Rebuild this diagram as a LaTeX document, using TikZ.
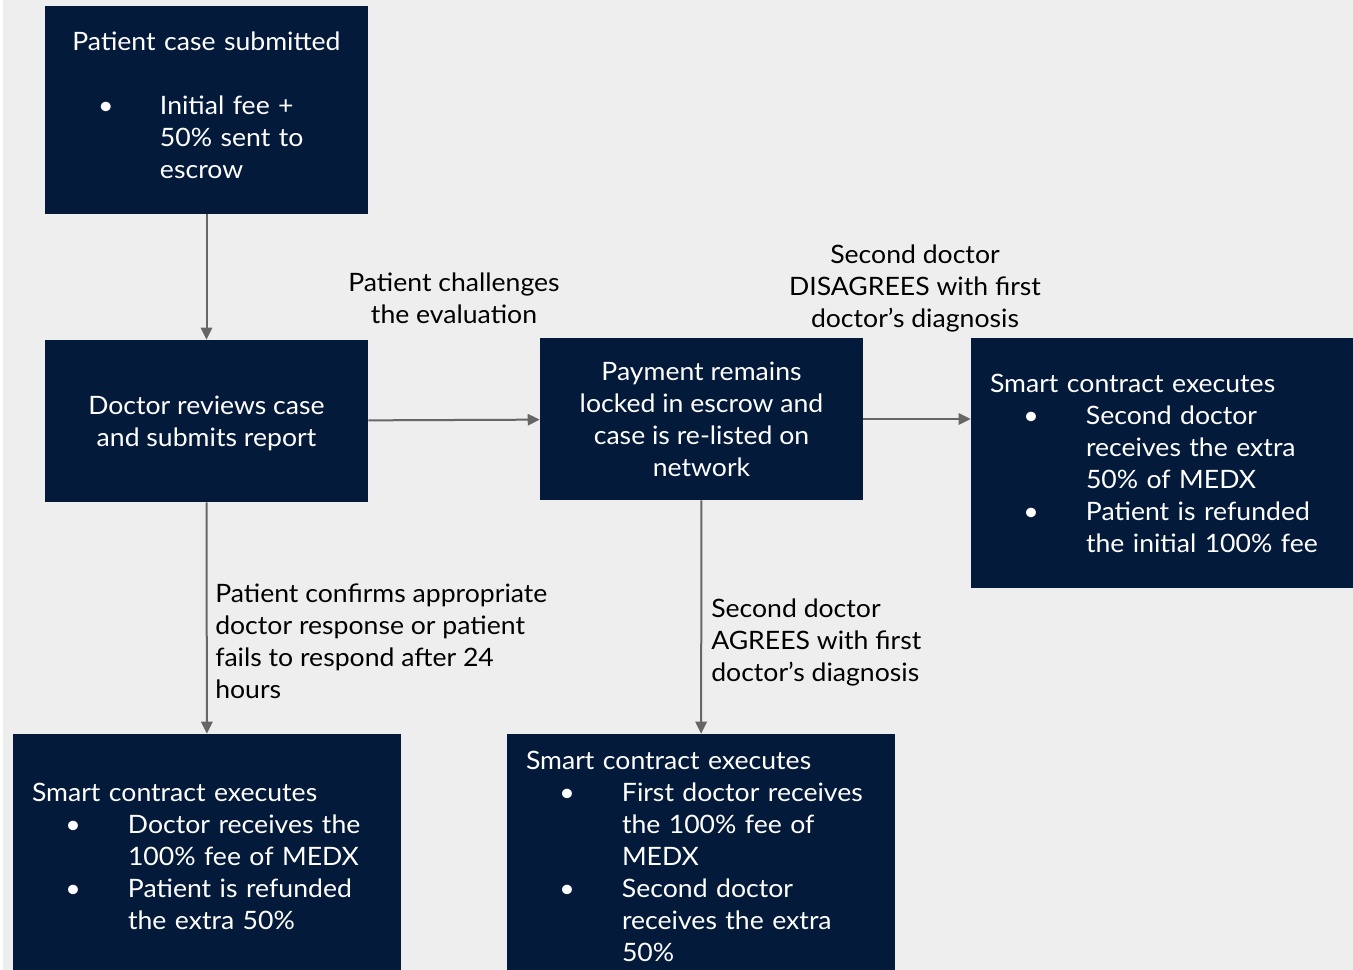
\documentclass[tikz,border=0pt]{standalone}
\usepackage{fontspec}
\setmainfont{Lato}[FakeStretch=1.05]
\usetikzlibrary{arrows.meta}

\definecolor{boxnavy}{HTML}{041A3A}
\definecolor{pagegrey}{HTML}{EEEEEE}
\definecolor{linegrey}{HTML}{666666}

\tikzset{
  box/.style={fill=boxnavy, text=white, inner sep=0pt, font=\fontsize{19}{24}\selectfont},
  bulletbox/.style={box, align=left, inner xsep=14.25pt},
  lbl/.style={inner sep=0pt, font=\fontsize{19}{24}\selectfont},
  flow/.style={draw=linegrey, line width=1.5pt, -{Triangle[length=9pt,width=8.5pt]}},
}
\newcommand{\bul}{\hspace*{25pt}\textbullet}
\newcommand{\dropby}[2]{\raisebox{-#1}[\height][\depth]{#2}}

\begin{document}
\begin{tikzpicture}[x=0.75pt, y=-0.75pt]
\useasboundingbox (0,0) rectangle (1353,970);
\fill[pagegrey] (3,0) rectangle (1353,970);

% boxes
\node[box, align=left, minimum height=156pt, text width=162.75pt, inner xsep=39.75pt] (submitted) at (206.5,110) {\dropby{-1.5pt}{%
\begin{tabular}{@{}p{46.5pt}@{}p{116.25pt}@{}}
\multicolumn{2}{@{}c@{}}{\makebox[162.75pt][c]{Patient case submitted}}\\
\\
\textbullet & Initial fee +\\
 & 50\% sent to\\
 & escrow
\end{tabular}}};
\node[box, align=center, minimum width=242.25pt, minimum height=121.5pt] (review) at (206.5,421) {\dropby{2.25pt}{%
\begin{tabular}{@{}c@{}}Doctor reviews case\\and submits report\end{tabular}}};
\node[box, align=center, minimum width=242.25pt, minimum height=121.5pt] (relist) at (701.5,419) {\dropby{2.25pt}{%
\begin{tabular}{@{}c@{}}Payment remains\\locked in escrow and\\case is re-listed on\\network\end{tabular}}};
\node[bulletbox, minimum height=187.5pt, text width=258pt] (disagree) at (1162,463) {\dropby{2.25pt}{%
\begin{tabular}{@{}p{72pt}@{}l@{}}
\multicolumn{2}{@{}l@{}}{Smart contract executes}\\
\bul & Second doctor\\
 & receives the extra\\
 & 50\% of MEDX\\
\bul & Patient is refunded\\
 & the initial 100\% fee
\end{tabular}}};
\node[bulletbox, minimum height=183pt, text width=262.5pt] (confirm) at (207,856) {\dropby{2.25pt}{%
\begin{tabular}{@{}p{72pt}@{}l@{}}
\multicolumn{2}{@{}l@{}}{Smart contract executes}\\
\bul & Doctor receives the\\
 & 100\% fee of MEDX\\
\bul & Patient is refunded\\
 & the extra 50\%
\end{tabular}}};
\node[bulletbox, minimum height=183pt, text width=262.5pt] (agree) at (701,856) {\dropby{2.25pt}{%
\begin{tabular}{@{}p{72pt}@{}l@{}}
\multicolumn{2}{@{}l@{}}{Smart contract executes}\\
\bul & First doctor receives\\
 & the 100\% fee of\\
 & MEDX\\
\bul & Second doctor\\
 & receives the extra\\
 & 50\%
\end{tabular}}};

% labels
\node[lbl, align=center] (challenge) at (454,298) {Patient challenges\\the evaluation};
\node[lbl, align=center] (nodisagree) at (915,288) {Second doctor\\DISAGREES with first\\doctor’s diagnosis};
\node[lbl, align=left, anchor=west] (noconfirm) at (215,641) {Patient confirms appropriate\\doctor response or patient\\fails to respond after 24\\hours};
\node[lbl, align=left, anchor=west] (noagree) at (711,642) {Second doctor\\AGREES with first\\doctor’s diagnosis};

% arrows
\draw[flow] (submitted) -- (review);
\draw[flow] (review) -- (relist);
\draw[flow] (relist.east) -- (relist.east -| disagree.west);
\draw[flow] (review) -- (confirm);
\draw[flow] (relist) -- (agree);
\end{tikzpicture}
\end{document}
